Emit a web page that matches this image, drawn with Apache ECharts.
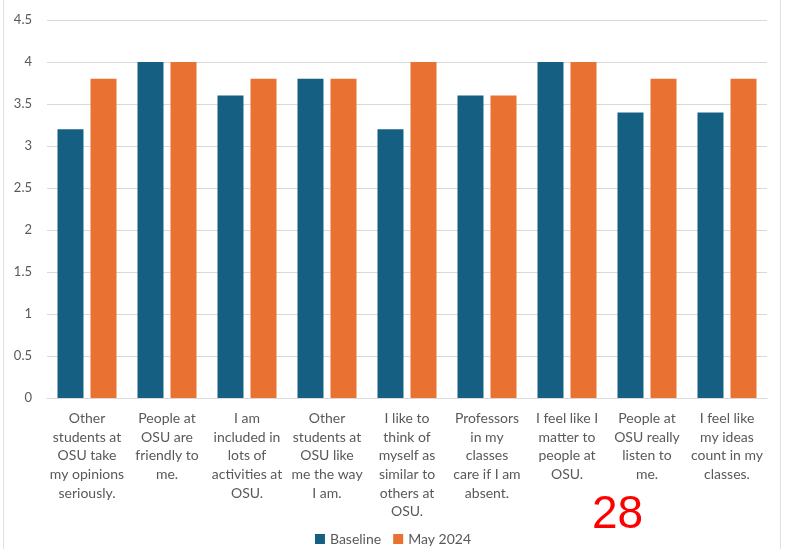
<!DOCTYPE html>
<html>
<head>
<meta charset="utf-8">
<script src="https://cdn.jsdelivr.net/npm/echarts@6/dist/echarts.min.js"></script>
<style>
  html, body { margin: 0; padding: 0; background: #fff; }
  #main { width: 786px; height: 549px; }
</style>
</head>
<body>
<div id="main"></div>
<script>
var categories = [
  'Other\nstudents at\nOSU take\nmy opinions\nseriously.',
  'People at\nOSU are\nfriendly to\nme.',
  'I am\nincluded in\nlots of\nactivities at\nOSU.',
  'Other\nstudents at\nOSU like\nme the way\nI am.',
  'I like to\nthink of\nmyself as\nsimilar to\nothers at\nOSU.',
  'Professors\nin my\nclasses\ncare if I am\nabsent.',
  'I feel like I\nmatter to\npeople at\nOSU.',
  'People at\nOSU really\nlisten to\nme.',
  'I feel like\nmy ideas\ncount in my\nclasses.'
];
var baseline = [3.2, 4, 3.6, 3.8, 3.2, 3.6, 4, 3.4, 3.4];
var may2024 = [3.8, 4, 3.8, 3.8, 4, 3.6, 4, 3.8, 3.8];
var seriesNames = ['Baseline', 'May 2024'];

var myChart = echarts.init(document.getElementById('main'));
var option = {
  backgroundColor: '#fff',
  color: ['#156082', '#e97132'],
  animation: false,
  textStyle: { fontFamily: 'Lato, "Open Sans", sans-serif' },
  grid: { left: 47, right: 19, top: 20, bottom: 151 },
  legend: {
    data: seriesNames,
    bottom: -2,
    left: 'center',
    itemWidth: 10,
    itemHeight: 10,
    itemGap: 12,
    icon: 'rect',
    textStyle: { color: '#595959', fontSize: 14 }
  },
  xAxis: {
    type: 'category',
    data: categories,
    axisLine: { lineStyle: { color: '#d9d9d9', width: 1 } },
    axisTick: { show: false },
    axisLabel: {
      color: '#595959',
      fontSize: 14,
      lineHeight: 18.7,
      interval: 0,
      margin: 11,
      align: 'center'
    }
  },
  yAxis: {
    type: 'value',
    min: 0,
    max: 4.5,
    interval: 0.5,
    axisLine: { show: false },
    axisTick: { show: false },
    splitLine: { lineStyle: { color: '#d9d9d9', width: 1 } },
    axisLabel: { color: '#595959', fontSize: 13, margin: 15 }
  },
  series: [
    {
      name: seriesNames[0],
      type: 'bar',
      data: baseline,
      barWidth: 26,
      barGap: '27%'
    },
    {
      name: seriesNames[1],
      type: 'bar',
      data: may2024,
      barWidth: 26,
      barGap: '27%'
    }
  ],
  graphic: [
    {
      type: 'line',
      shape: { x1: 3.5, y1: 0, x2: 3.5, y2: 549 },
      style: { stroke: '#e0e0e0', lineWidth: 1 }
    },
    {
      type: 'line',
      shape: { x1: 780.5, y1: 0, x2: 780.5, y2: 549 },
      style: { stroke: '#e0e0e0', lineWidth: 1 }
    },
    {
      type: 'text',
      left: 592,
      top: 492,
      style: {
        text: '28',
        fill: '#ff0000',
        font: '46px "Liberation Sans", Arial, sans-serif'
      }
    }
  ]
};
myChart.setOption(option);
</script>
</body>
</html>
